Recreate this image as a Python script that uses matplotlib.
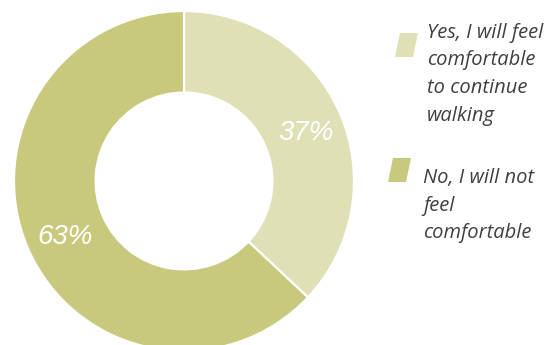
import matplotlib.pyplot as plt
from matplotlib.patches import Polygon

labels = ['Yes, I will feel\ncomfortable\nto continue\nwalking', 'No, I will not\nfeel\ncomfortable']
shares = [37, 63]
colors = ['#DFE0B5', '#C9C97E']

fig = plt.figure(figsize=(5.53, 3.45), dpi=100)
ax = fig.add_axes([14/553, -6/345, 340/553, 340/345])

wedges, texts, autotexts = ax.pie(shares, colors=colors, startangle=90, counterclock=False,
                                  radius=1, autopct='%d%%', pctdistance=0.77,
                                  wedgeprops=dict(width=0.48, edgecolor='white', linewidth=1.6))
for t in autotexts:
    t.set_color('white')
    t.set_fontsize(20)
    t.set_fontstyle('italic')
    t.set_family('Liberation Sans')
    # nudge down a touch, glyphs sit high with va='center'
    x, y = t.get_position()
    t.set_position((x + 0.01, y - 0.022))
ax.set_xlim(-1, 1)
ax.set_ylim(-1, 1)
ax.set_aspect('equal')
ax.axis('off')

# legend
W, H = 553, 345
boxes = [(395, 33), (388, 158)]
text_pos = [(427, 23), (423, 168)]
for (bx, by), (tx, ty), c, lab in zip(boxes, text_pos, colors, labels):
    pts = [(bx + 5, by), (bx + 23, by), (bx + 18, by + 24), (bx, by + 24)]
    fig.patches.append(Polygon([(x / W, 1 - y / H) for x, y in pts], closed=True,
                               transform=fig.transFigure, facecolor=c, edgecolor='none'))
    fig.text(tx / W, 1 - ty / H, lab, ha='left', va='top', fontsize=14.5, style='italic',
             family='Open Sans', color='#404040', linespacing=1.5)

fig.savefig('out.png', dpi=100)
